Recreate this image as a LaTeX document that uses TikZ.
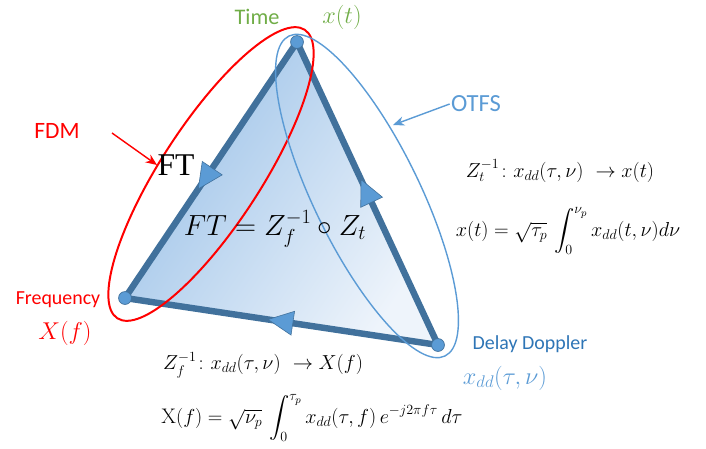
\documentclass[tikz,border=0pt]{standalone}
\usepackage{amsmath}
\usepackage{fontspec}
\newfontfamily\calibri{Carlito}
\newfontfamily\timesfont{Liberation Serif}
\usetikzlibrary{arrows.meta, decorations.markings, calc}
\definecolor{ppGreen}{HTML}{70AD47}
\definecolor{ppRed}{HTML}{FF0000}
\definecolor{ppBlue}{HTML}{5B9BD5}
\definecolor{ppBlueD}{HTML}{41719C}
\definecolor{ppBlueT}{HTML}{2E75B6}
\definecolor{triDark}{HTML}{9CC2E8}
\definecolor{triLight}{HTML}{EEF4FB}
\tikzset{
  >={Stealth[length=3.4mm, width=2.8mm]},
  edge/.style={line width=5.5pt, draw=ppBlueD, line join=round},
  vdot/.style={circle, fill=ppBlue, draw=ppBlueD, line width=0.6pt,
    minimum size=11pt, inner sep=0pt},
  tipmark/.style={postaction=decorate, decoration={markings,
    mark=at position #1 with {\filldraw[fill=ppBlue, draw=ppBlueD, line width=0.5pt]
      (12,0) -- (-13,12) -- (-13,-12) -- cycle;}}},
  redring/.style={draw=ppRed, line width=1.7pt},
  bluering/.style={draw=ppBlue, line width=1.2pt},
  redarrow/.style={->, draw=ppRed, line width=1.2pt},
  bluearrow/.style={->, draw=ppBlue, line width=1.2pt},
  sanslbl/.style={font=\calibri\fontsize{#1}{#1}\selectfont, inner sep=1pt},
  mathlbl/.style={font=\fontsize{#1}{#1}\selectfont, inner sep=1pt},
  eqn/.style={mathlbl=18, inner sep=0pt},
}

\begin{document}
\begin{tikzpicture}[x=0.03cm, y=0.03cm]
  \useasboundingbox (0,0) rectangle (706,-448);

  % ---- Triangle ----------------------------------------------------------
  \coordinate (T) at (297,-42);
  \coordinate (F) at (125,-298);
  \coordinate (D) at (438,-345);

  \shade[shading=axis, top color=triDark, bottom color=triLight, shading angle=56]
    (T) -- (F) -- (D) -- cycle;
  \draw[edge] (T) -- (F) -- (D) -- cycle;

  % direction marks on the edges
  \path[tipmark=0.535] (T) -- (F);
  \path[tipmark=0.51]  (D) -- (T);
  \path[tipmark=0.505] (D) -- (F);

  \node[vdot] (tdot) at (T) {};
  \node[vdot] (fdot) at (F) {};
  \node[vdot] (ddot) at (D) {};

  % ---- Domain rings ------------------------------------------------------
  \draw[redring, rotate around={57:(211,-174)}]
    (211,-174) ellipse [x radius=172, y radius=50];
  \draw[bluering, rotate around={116:(367,-196)}]
    (367,-196) ellipse [x radius=178, y radius=53];

  % ---- Corner labels -----------------------------------------------------
  \node[sanslbl=19, text=ppGreen] (time) at (257,-17) {Time};
  \node[mathlbl=22, text=ppGreen] (xt)   at (342,-17) {$x(t)$};

  \node[sanslbl=17, text=ppRed] (freq) at (58,-300) {Frequency};
  \node[mathlbl=22, text=ppRed] (xf)   at (65,-333) {$X(f)$};

  \node[sanslbl=17, text=ppBlueT] (dd)  at (530,-344) {Delay Doppler};
  \node[mathlbl=22, text=ppBlue]  (xdd) at (505,-378) {$x_{dd}(\tau,\nu)$};

  % ---- Scheme labels -----------------------------------------------------
  \node[sanslbl=20, text=ppRed] (fdm) at (57,-131) {FDM};
  \coordinate (fdmfrom) at (112,-133);
  \coordinate (fdmtip)  at (157,-165);
  \draw[redarrow] (fdmfrom) -- (fdmtip);

  \node[sanslbl=21, text=ppBlue] (otfs) at (476,-104) {OTFS};
  \coordinate (otfstip) at (393,-125);
  \draw[bluearrow] (otfs.west) -- (otfstip);

  \node[font=\timesfont\fontsize{27}{27}\selectfont, inner sep=1pt] (ftlbl) at (176,-165) {FT};
  \node[mathlbl=23] (ftdef) at (275,-229) {$FT = Z_f^{-1}\circ Z_t$};

  % ---- Transforms --------------------------------------------------------
  \node[eqn] (ztinv) at (560,-171) {$Z_t^{-1}\colon x_{dd}(\tau,\nu)\ \rightarrow x(t)$};
  \node[eqn] (xteq)  at (568,-231)
    {$\displaystyle x(t)=\sqrt{\tau_p}\,\int_0^{\nu_p} x_{dd}(t,\nu)d\nu$};

  \node[eqn] (zfinv) at (263,-365) {$Z_f^{-1}\colon x_{dd}(\tau,\nu)\ \rightarrow X(f)$};
  \node[eqn] (xfeq)  at (312,-418)
    {$\displaystyle \mathrm{X}(f)=\sqrt{\nu_p}\,\int_0^{\tau_p} x_{dd}(\tau,f)\,e^{-j2\pi f\tau}\,d\tau$};

\end{tikzpicture}
\end{document}
